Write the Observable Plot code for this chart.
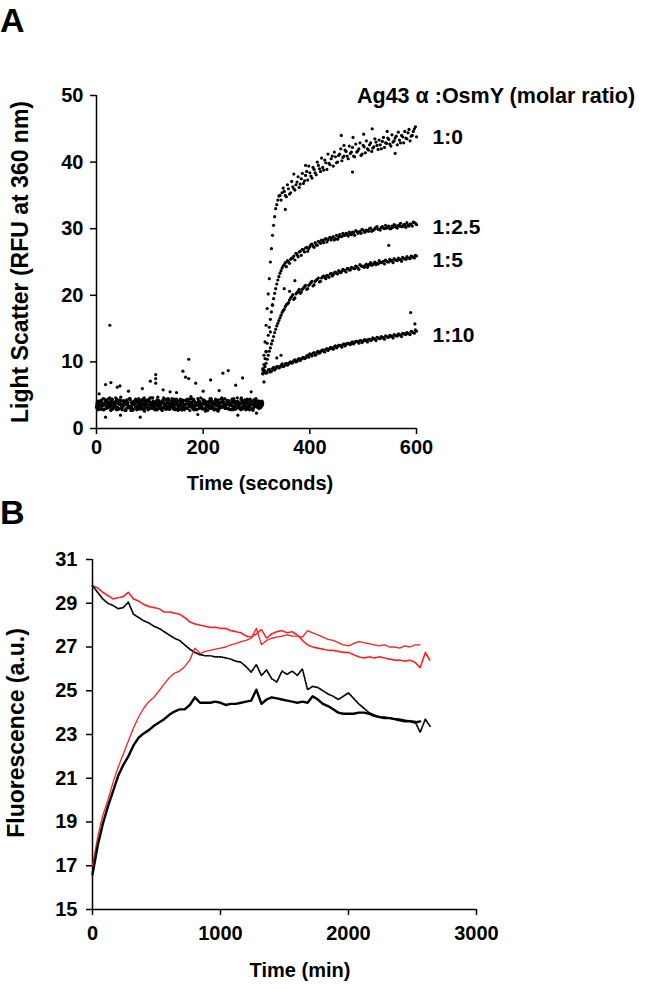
<!DOCTYPE html>
<html><head><meta charset="utf-8">
<script src="https://cdn.jsdelivr.net/npm/d3@7"></script>
<script src="https://cdn.jsdelivr.net/npm/@observablehq/plot@0.6"></script>
<style>
body{margin:0;background:#fff;font-family:"Liberation Sans",Arial,sans-serif;}
#wrap{position:relative;width:647px;height:989px;overflow:hidden;}
.t{position:absolute;font-weight:bold;color:#000;white-space:nowrap;line-height:1.15;}
.p{position:absolute;}
</style></head><body><div id="wrap"></div>
<script>
// ---------- Panel A data ----------
const ratioLabels = ["1:0", "1:2.5", "1:5", "1:10"];
const legendTitle = "Ag43 \u03b1 :OsmY (molar ratio)";
const ticksA_x = [0, 200, 400, 600];
const ticksA_y = [0, 10, 20, 30, 40, 50];
const baseStep = 3;      // seconds between baseline readings (per replicate)
const riseStart = 312;   // first reading after addition
const riseStep = 4;      // seconds between readings after addition

const base1 = [3.2,4.1,3.6,2.9,3.8,4.4,3.1,3.5,4.0,2.7,
 3.9,3.3,4.6,3.0,3.7,4.2,2.8,3.4,4.0,3.6,
 3.1,4.5,3.3,2.9,3.8,4.1,3.5,3.0,4.3,3.7,
 2.6,3.9,3.2,4.4,3.6,3.0,4.0,3.4,2.8,4.2,
 3.7,3.1,4.6,3.3,3.9,2.9,3.5,4.1,3.2,3.8,
 4.4,2.7,3.6,4.0,3.1,3.4,4.3,3.0,3.7,4.8,
 3.3,2.8,3.9,3.5,4.2,3.1,3.6,4.0,2.9,3.8,
 3.3,4.5,3.0,3.7,4.1,3.4,2.6,3.9,3.2,4.3,
 3.6,3.0,4.0,3.5,2.8,4.2,3.3,3.8,4.6,3.1,
 3.7,2.9,4.1,3.4,3.9,3.2,4.4,3.6,3.0,3.8,
 4.2,3.5,3.3,4.0];
const base2 = [3.5,2.8,4.0,3.3,4.5,3.7,3.0,3.9,3.4,4.2,
 2.9,3.6,4.1,3.2,3.8,4.7,3.1,3.5,2.7,4.0,
 3.4,4.3,3.0,3.7,3.9,2.8,4.2,3.3,3.6,4.4,
 3.1,3.8,2.9,4.0,3.5,4.6,3.2,3.7,3.0,4.1,
 3.6,2.7,3.9,4.3,3.4,3.1,3.8,4.5,2.9,3.5,
 4.0,3.3,3.7,2.8,4.2,3.6,3.0,3.9,4.4,3.2,
 3.5,4.1,2.9,3.8,3.3,4.6,3.1,3.7,2.6,4.0,
 3.4,3.9,4.2,3.0,3.6,2.8,4.3,3.5,3.2,3.8,
 4.5,3.1,3.7,2.9,4.0,3.4,3.9,3.0,4.1,3.6,
 2.8,4.2,3.3,3.8,4.4,3.1,3.5,2.9,4.0,3.7,
 3.2,4.1,3.6,3.9];
const base3 = [3.9,3.1,3.5,4.3,2.8,3.7,4.0,3.2,4.6,3.4,
 3.0,3.8,4.2,2.9,3.6,4.1,3.3,3.9,2.7,3.5,
 4.4,3.1,3.7,4.0,3.2,2.9,4.5,3.6,3.0,3.8,
 4.2,3.4,2.8,3.9,3.5,4.1,3.1,3.7,4.7,3.0,
 3.6,4.0,3.3,2.9,3.8,4.3,3.2,3.5,4.0,2.8,
 3.9,3.4,4.4,3.1,3.7,3.0,4.2,3.6,2.7,3.8,
 4.1,3.3,3.9,4.5,3.0,3.5,2.9,4.0,3.4,3.7,
 3.2,4.3,3.6,2.8,3.9,4.1,3.1,3.8,4.6,3.3,
 3.0,3.7,4.2,3.5,2.9,3.9,3.4,4.0,3.1,3.6,
 4.4,3.2,3.8,2.8,4.1,3.5,3.9,3.0,4.3,3.6,
 3.4,3.9,3.1,3.7];
const base4 = [3.0,3.7,4.2,3.4,2.9,3.9,3.3,4.5,3.6,3.1,
 4.0,3.5,2.8,3.8,4.3,3.2,3.6,4.1,3.0,3.9,
 3.3,2.7,4.0,3.6,4.4,3.1,3.8,3.4,2.9,4.2,
 3.5,3.9,3.0,4.6,3.3,3.7,2.8,4.1,3.4,3.8,
 3.1,4.3,3.6,2.9,4.0,3.5,3.2,3.9,4.4,3.0,
 3.7,3.3,4.1,2.8,3.6,4.2,3.1,3.8,3.4,4.5,
 2.9,3.9,3.5,4.0,3.2,3.7,4.3,3.0,3.6,2.7,
 4.1,3.4,3.8,3.1,4.4,3.5,2.9,3.9,3.3,4.0,
 3.6,4.2,3.0,3.7,3.4,2.8,4.1,3.5,3.9,3.2,
 4.6,3.1,3.6,3.9,2.9,3.4,4.0,3.7,3.3,4.2,
 3.5,3.0,3.8,4.1];
const base5 = [3.6,3.0,4.1,3.4,2.8,3.9,4.3,3.2,3.7,4.0,
 3.1,3.5,4.4,2.9,3.8,3.3,4.2,3.6,3.0,3.9,
 4.5,3.4,2.7,3.8,4.1,3.2,3.6,4.0,3.3,2.9,
 3.7,4.3,3.1,3.5,4.6,3.0,3.8,3.4,4.1,3.2,
 2.8,3.9,3.6,4.4,3.3,3.0,4.0,3.7,3.1,4.2,
 3.5,2.9,3.8,4.3,3.4,3.6,3.0,4.1,3.9,3.2,
 4.4,3.5,2.8,3.7,4.0,3.3,3.9,4.2,3.1,3.6,
 3.0,4.5,3.4,3.8,2.9,4.1,3.5,3.2,4.0,3.7,
 3.3,4.2,2.9,3.6,4.4,3.1,3.8,3.5,4.0,3.0,
 3.9,3.4,4.3,3.2,3.7,2.8,4.1,3.6,3.3,4.5,
 3.8,3.1,4.0,3.5];
const base6 = [4.0,3.4,2.9,3.8,3.5,4.2,3.1,3.7,2.8,4.4,
 3.6,3.2,3.9,4.1,3.0,3.5,3.8,2.7,4.3,3.4,
 3.1,3.9,3.6,4.2,3.3,3.7,2.9,4.0,3.5,4.6,
 3.2,3.6,4.1,3.0,3.9,3.4,2.8,4.3,3.7,3.5,
 4.0,3.1,3.6,3.3,4.5,2.9,3.8,3.2,4.1,3.6,
 3.0,4.2,3.4,3.9,2.8,3.7,4.4,3.3,3.5,4.0,
 3.2,3.8,2.9,4.1,3.6,3.4,4.3,3.0,3.9,3.5,
 4.2,3.1,3.7,2.8,4.0,3.6,3.3,4.4,3.2,3.9,
 3.5,3.0,4.1,3.7,3.4,4.5,2.9,3.8,3.6,3.1,
 4.2,3.5,3.0,3.9,4.3,3.3,3.7,2.7,4.0,3.4,
 3.6,4.1,3.2,3.8];
const baseOutliers = [[25,15.5],[173,10.4],[17,6.6],[27,6.9],[39,6.2],[44,6.4],[86,6.0],[101,7.1],
 [111,8.1],[111,7.5],[111,6.8],[138,5.5],[162,8.6],[167,7.7],[173,7.5],[186,6.8],[214,7.3],
 [237,8.3],[247,8.7],[261,6.5],[274,7.6],[82,1.7],[17,1.7],[60,5.6],[125,5.8],[150,5.4],
 [200,5.6],[230,5.7],[290,5.5],[45,2.0],[190,2.1],[265,2.0],[300,2.3],[5,5.2]];

// readings at 312, 316, ... 600 (first replicate)
const rise10 = [9.0,13.0,18.0,22.5,27.0,30.5,33.0,34.3,35.0,35.4,
 35.6,34.8,36.0,35.4,36.3,35.8,37.0,36.2,37.5,36.8,
 38.0,37.3,38.4,37.6,38.9,38.1,39.5,38.6,39.2,40.3,
 38.9,39.8,40.5,39.4,40.8,40.0,41.2,40.2,40.9,41.6,
 40.5,41.3,42.2,40.8,41.5,42.0,41.0,42.5,41.4,42.0,
 42.6,41.6,42.3,43.0,41.9,42.6,43.1,42.2,42.8,43.4,
 42.4,43.0,43.6,42.6,43.3,44.0,42.9,43.6,44.4,43.2,
 44.0,45.0,43.8];
const rise125 = [8.8,10.5,12.8,15.2,17.5,19.5,21.0,22.3,23.3,24.1,
 24.6,24.3,25.0,25.4,25.6,25.3,26.1,26.5,26.0,26.8,
 27.1,26.6,27.3,27.7,27.2,27.6,28.1,27.8,28.2,28.4,
 28.0,28.6,28.3,28.8,28.5,28.4,29.1,28.8,29.0,29.3,
 28.9,29.2,29.5,29.0,29.6,29.4,29.3,29.8,29.5,29.7,
 30.0,29.6,29.8,30.2,29.9,29.8,30.3,30.0,30.1,30.4,
 30.0,30.2,30.5,30.1,30.4,30.3,30.6,30.2,30.5,30.7,
 30.4,30.9,30.6];
const rise15 = [8.3,9.3,10.4,11.6,12.7,13.8,14.9,15.8,16.6,17.4,
 17.9,18.6,18.9,19.6,20.1,19.6,20.4,20.9,20.5,21.1,
 21.5,21.0,21.7,22.1,21.6,22.3,22.6,22.1,22.8,22.7,
 23.0,22.7,23.3,23.1,23.5,23.2,23.5,23.6,23.8,23.5,
 24.0,23.8,24.1,24.0,24.3,23.9,24.4,24.3,24.5,24.2,
 24.7,24.5,24.8,24.6,24.7,24.9,25.0,24.7,25.1,25.0,
 25.2,24.9,25.3,25.2,25.4,25.1,25.5,25.4,25.6,25.5,
 25.8,25.6,25.9];
const rise110 = [8.2,8.6,8.4,8.9,8.6,9.2,9.0,9.3,9.2,9.7,
 9.4,9.8,9.7,10.0,9.9,10.3,10.1,10.5,10.4,10.7,
 10.6,11.0,11.2,10.9,11.4,11.1,11.6,11.5,11.8,11.5,
 12.0,11.9,12.2,11.9,12.4,12.3,12.5,12.2,12.7,12.6,
 12.8,12.6,13.0,12.9,13.1,12.8,13.2,13.1,13.3,13.0,
 13.4,13.3,13.5,13.2,13.6,13.5,13.7,13.4,13.8,13.7,
 13.9,13.6,14.0,13.9,14.1,13.8,14.2,14.1,14.3,14.1,
 14.5,14.3,14.6];
// readings at 314, 318, ... 598 (interleaved readings)
const rise10b = [11.0,15.5,20.2,25.0,29.0,31.8,33.6,34.9,34.3,36.1,
 35.0,36.6,35.2,37.1,36.0,36.6,37.8,36.7,38.3,37.2,
 38.6,39.4,37.9,39.2,38.4,40.0,39.0,40.6,38.8,39.9,
 41.2,39.6,40.9,41.5,39.9,41.0,42.0,40.7,41.8,40.9,
 42.4,41.5,40.9,42.7,41.7,42.9,41.2,42.3,43.2,41.8,
 42.9,42.1,43.5,42.5,43.3,42.0,43.7,42.9,43.6,42.7,
 44.1,43.2,43.9,44.5,42.9,43.8,44.6,43.5,44.9,43.9,
 44.6,45.3];
const rise125b = [9.6,11.6,14.0,16.4,18.5,20.3,21.7,22.8,23.7,24.4,
 24.9,25.2,24.8,25.6,25.9,26.3,25.8,26.6,26.9,26.5,
 27.2,27.0,27.6,27.4,27.9,27.5,28.0,28.3,27.9,28.5,
 28.3,28.7,28.6,28.3,29.0,28.7,28.9,29.3,29.0,29.2,
 29.5,29.1,29.4,29.7,29.3,29.6,29.9,29.5,29.8,29.6,
 30.1,29.8,30.0,30.3,29.9,30.2,30.1,30.5,30.2,30.0,
 30.4,30.6,30.2,30.5,30.8,30.3,30.6,30.9,30.4,30.7,
 31.0,30.8];
const rise15b = [8.8,9.8,11.0,12.1,13.2,14.4,15.4,16.2,17.0,17.7,
 18.3,18.7,19.3,19.8,19.4,20.2,20.6,20.3,20.9,21.3,
 20.9,21.5,21.9,21.4,22.1,22.4,22.0,22.6,22.9,22.5,
 22.9,23.2,22.9,23.4,23.3,23.7,23.4,23.9,23.7,24.0,
 23.8,24.2,24.1,24.4,24.1,24.6,24.4,24.2,24.7,24.5,
 24.9,24.6,25.0,24.8,25.2,24.9,25.1,25.3,25.0,25.4,
 25.2,25.5,25.3,25.6,25.4,25.7,25.5,25.8,25.6,25.9,
 25.7,26.0];
const rise110b = [8.5,8.3,8.8,8.5,9.0,8.8,9.3,9.1,9.5,9.3,
 9.7,9.5,9.9,9.8,10.2,10.0,10.4,10.2,10.6,10.5,
 10.9,10.7,11.1,11.3,11.0,11.5,11.3,11.7,11.6,11.9,
 11.7,12.1,12.0,12.3,12.1,12.5,12.4,12.6,12.4,12.8,
 12.7,12.9,12.7,13.1,13.0,13.2,12.9,13.3,13.2,13.4,
 13.2,13.6,13.4,13.7,13.5,13.8,13.6,13.9,13.7,14.0,
 13.8,14.1,13.9,14.2,14.0,14.3,14.2,14.4,14.2,14.6,
 14.4,14.8];
const riseOutliers = [[459,44.0],[481,43.7],[501,44.2],[517,45.0],[464,42.5],[392,39.5],[480,38.5],
 [354,32.9],[370,38.2],[545,44.6],[560,41.3],[548,27.5],[589,17.4],[597,15.7],[352,21.0],
 [362,20.6],[372,22.2],[330,18.6],[326,14.5],[318,11.5],[314,7.0],[338,10.6],[346,11.0]];

// ---------- Panel B data ----------
const fluorStep = 40; // minutes between readings
const ticksB_x = [0, 1000, 2000, 3000];
const ticksB_y = [15, 17, 19, 21, 23, 25, 27, 29, 31];
const redSolid = [17.0,18.3,19.3,20.0,20.8,21.5,22.1,22.7,23.3,23.8,
 24.2,24.5,24.7,25.0,25.3,25.6,25.8,25.9,26.1,26.4,
 26.95,26.7,26.8,26.85,26.9,26.95,27.0,27.1,27.15,27.25,
 27.3,27.4,27.85,27.1,27.3,27.4,27.45,27.5,27.55,27.5,
 27.5,27.45,27.75,27.65,27.55,27.45,27.35,27.3,27.2,27.1,
 27.05,27.15,27.25,27.2,27.15,27.1,27.05,27.1,27.0,27.0,
 26.95,27.05,27.0,27.1,27.1];
const redDotted = [29.8,29.7,29.5,29.35,29.2,29.25,29.3,29.5,29.2,29.1,
 28.95,28.85,28.8,28.75,28.6,28.6,28.55,28.5,28.35,28.15,
 28.05,28.0,27.95,27.9,27.9,27.85,27.85,27.75,27.7,27.65,
 27.5,27.45,27.6,27.8,27.4,27.6,27.7,27.75,27.65,27.7,
 27.55,27.3,27.1,27.0,26.95,26.9,26.85,26.85,26.8,26.75,
 26.75,26.65,26.55,26.5,26.55,26.5,26.55,26.5,26.45,26.4,
 26.4,26.35,26.4,26.3,26.05,26.75,26.35];
const blackSolid = [16.6,17.9,18.9,19.7,20.4,21.1,21.6,22.0,22.5,22.85,
 23.05,23.2,23.4,23.55,23.7,23.9,24.05,24.15,24.15,24.35,
 24.7,24.45,24.45,24.45,24.5,24.45,24.35,24.4,24.4,24.45,
 24.5,24.55,25.05,24.4,24.6,24.7,24.65,24.6,24.55,24.5,
 24.45,24.5,24.45,24.75,24.6,24.4,24.3,24.15,24.0,23.95,
 23.95,23.95,24.0,24.0,23.95,23.85,23.8,23.75,23.75,23.7,
 23.65,23.6,23.6,23.55,23.6];
const blackDotted = [29.8,29.5,29.2,29.0,28.9,28.75,28.8,29.05,28.5,28.35,
 28.2,28.1,27.95,27.85,27.7,27.55,27.4,27.3,27.1,26.9,
 26.75,26.65,26.6,26.6,26.55,26.55,26.5,26.45,26.35,26.3,
 26.1,25.85,26.2,25.7,25.95,25.55,25.4,25.9,25.75,25.9,
 25.7,26.0,25.05,25.2,25.15,25.0,24.85,24.75,24.6,24.75,
 24.9,24.65,24.4,24.2,24.0,23.9,23.8,23.8,23.75,23.72,
 23.7,23.65,23.62,23.6,23.1,23.7,23.35];

// ---------- build ----------
const wrap = document.getElementById("wrap");
const FONT = "'Liberation Sans', Arial, Helvetica, sans-serif";

function label(text, x, baseline, size, anchor) {
  const d = document.createElement("div");
  d.className = "t";
  d.textContent = text;
  d.style.fontSize = size + "px";
  d.style.left = x + "px";
  d.style.top = (baseline - 0.92 * size) + "px";
  if (anchor === "middle") d.style.transform = "translateX(-50%)";
  wrap.appendChild(d);
}
function vlabel(text, cx, cy, size) {
  const d = document.createElement("div");
  d.className = "t";
  d.textContent = text;
  d.style.fontSize = size + "px";
  d.style.left = cx + "px";
  d.style.top = cy + "px";
  d.style.transform = "translate(-50%,-50%) rotate(-90deg)";
  wrap.appendChild(d);
}

// Panel A points
const ptsA = [];
[base1, base2, base3, base4, base5, base6].forEach((arr, k) =>
  arr.forEach((v, i) => ptsA.push({t: i * baseStep + k * 0.5, v})));
const rises = [rise10, rise125, rise15, rise110];
const risesB = [rise10b, rise125b, rise15b, rise110b];
rises.forEach(arr => arr.forEach((v, i) => ptsA.push({t: riseStart + i * riseStep, v})));
risesB.forEach(arr => arr.forEach((v, i) => ptsA.push({t: riseStart + riseStep / 2 + i * riseStep, v})));
baseOutliers.forEach(([t, v]) => ptsA.push({t, v}));
riseOutliers.forEach(([t, v]) => ptsA.push({t, v}));
const endLabels = ratioLabels.map((name, k) => ({name, t: 600, v: d3.mean(rises[k].slice(-6))}));

const fmt = d3.format("d");
const plotA = Plot.plot({
  width: 647, height: 500,
  marginLeft: 96, marginRight: 231, marginTop: 95, marginBottom: 72,
  x: {domain: [0, 600]},
  y: {domain: [0, 50]},
  style: {fontFamily: FONT, fontSize: "20px", fontWeight: "bold", color: "#000", background: "transparent", overflow: "visible"},
  marks: [
    Plot.axisX({ticks: ticksA_x, tickFormat: fmt, tickSize: 6, tickPadding: 5, label: null, strokeWidth: 1.5}),
    Plot.axisY({ticks: ticksA_y, tickFormat: fmt, tickSize: 6, tickPadding: 7, label: null, strokeWidth: 1.5}),
    Plot.ruleX([0], {strokeWidth: 1.5}),
    Plot.ruleY([0], {strokeWidth: 1.5}),
    Plot.dot(ptsA, {x: "t", y: "v", r: 1.6, fill: "#000", stroke: null}),
    Plot.text(endLabels, {x: "t", y: "v", text: "name", textAnchor: "start", dx: 16, dy: 2, fontSize: 21, fontWeight: "bold"})
  ]
});
plotA.classList.add("p");
plotA.style.left = "0px"; plotA.style.top = "0px";
wrap.appendChild(plotA);

// Panel B lines
const mk = arr => arr.map((v, i) => ({t: i * fluorStep, v}));
const plotB = Plot.plot({
  width: 647, height: 489,
  marginLeft: 92, marginRight: 171, marginTop: 59, marginBottom: 80,
  x: {domain: [0, 3000]},
  y: {domain: [15, 31]},
  style: {fontFamily: FONT, fontSize: "20px", fontWeight: "bold", color: "#000", background: "transparent", overflow: "visible"},
  marks: [
    Plot.axisX({ticks: ticksB_x, tickFormat: fmt, tickSize: 6, tickPadding: 10, label: null, strokeWidth: 1.5}),
    Plot.axisY({ticks: ticksB_y, tickFormat: fmt, tickSize: 6, tickPadding: 9, label: null, strokeWidth: 1.5}),
    Plot.ruleX([0], {strokeWidth: 1.5}),
    Plot.ruleY([15], {strokeWidth: 1.5}),
    Plot.line(mk(redDotted), {x: "t", y: "v", stroke: "#ff1f1f", strokeWidth: 1.7, strokeDasharray: "1.2,1.4"}),
    Plot.line(mk(blackDotted), {x: "t", y: "v", stroke: "#000", strokeWidth: 1.7, strokeDasharray: "1.2,1.4"}),
    Plot.line(mk(redSolid), {x: "t", y: "v", stroke: "#ff1f1f", strokeWidth: 1.3}),
    Plot.line(mk(blackSolid), {x: "t", y: "v", stroke: "#000", strokeWidth: 2.4})
  ]
});
plotB.classList.add("p");
plotB.style.left = "0px"; plotB.style.top = "500px";
wrap.appendChild(plotB);

// Texts
label("A", 0, 32, 34);
label(legendTitle, 357, 104, 21.5);
label("Time (seconds)", 260, 490, 20, "middle");
vlabel("Light Scatter (RFU at 360 nm)", 20, 262, 23);
label("B", 0, 524, 34);
vlabel("Fluorescence (a.u.)", 16, 733, 23);
label("Time (min)", 300, 977, 20, "middle");
</script>
</body></html>
